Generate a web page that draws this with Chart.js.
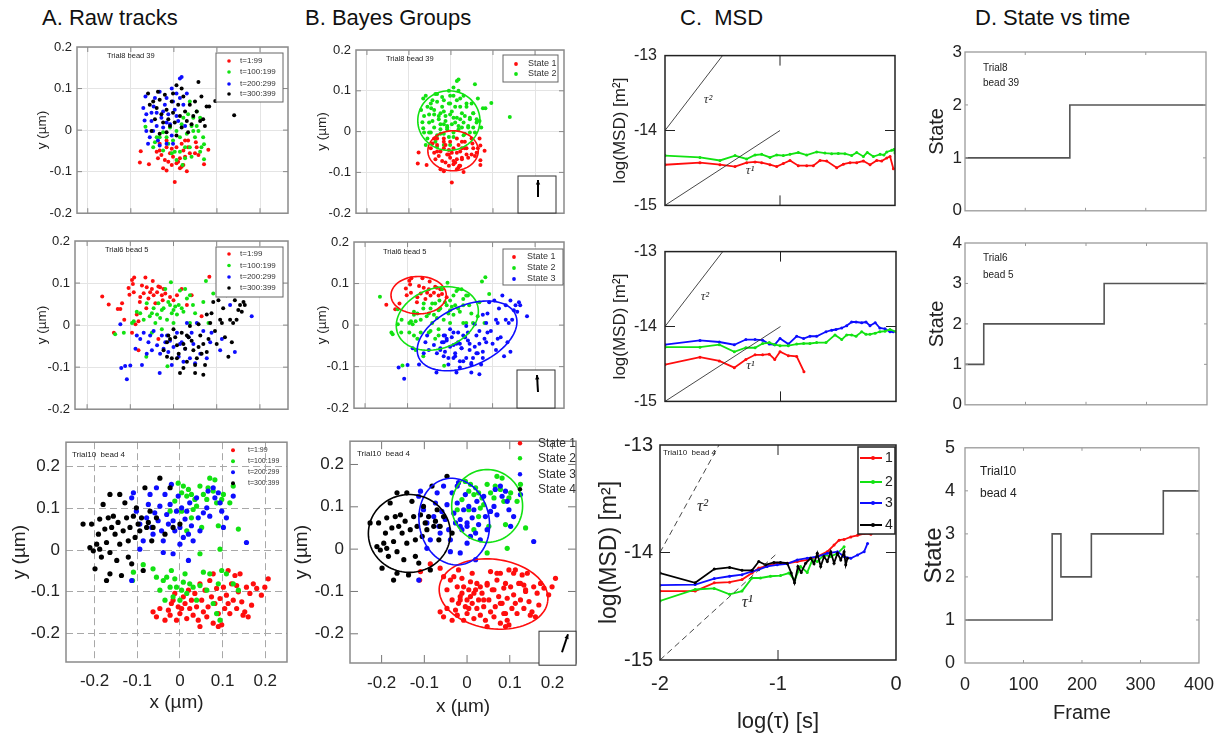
<!DOCTYPE html>
<html>
<head>
<meta charset="utf-8">
<script src="https://cdn.jsdelivr.net/npm/chart.js@4/dist/chart.umd.min.js"></script>
<style>
  body { margin: 0; background: #fff; width: 1225px; height: 737px; position: relative; overflow: hidden; font-family: 'Liberation Sans', Arial, sans-serif; }
  canvas { position: absolute; }
  .ttl { position: absolute; top: 5px; font-size: 22px; line-height: 26px; color: #111; white-space: pre; }
</style>
</head>
<body>
<div class="ttl" style="left:42px">A. Raw tracks</div>
<div class="ttl" style="left:305px">B. Bayes Groups</div>
<div class="ttl" style="left:680px">C.  MSD</div>
<div class="ttl" style="left:975px">D. State vs time</div>
<script>
// ---- Tick values ----
const xyTicks = [-0.2, -0.1, 0, 0.1, 0.2];
const msdXTicks = [-2, -1, 0];
const msdYTicks = [-15, -14, -13];
const frameTicks = [0, 100, 200, 300, 400];
const stateTicks3 = [0, 1, 2, 3];
const stateTicks4 = [0, 1, 2, 3, 4];
const stateTicks5 = [0, 1, 2, 3, 4, 5];

// ---- Legend labels ----
const timeLabels = ['t=1:99', 't=100:199', 't=200:299', 't=300:399'];
const stateLabels = ['State 1', 'State 2', 'State 3', 'State 4'];
const msdLabels = ['1', '2', '3', '4'];

// ---- Trial8 bead 39 : positions (µm), grouped by frame block ----
const r1Red = [[-0.077,-0.051],[-0.079,-0.078],[-0.058,-0.082],[-0.033,-0.049],[-0.029,-0.060],[-0.025,-0.092],[-0.017,-0.097],[-0.021,-0.072],[-0.009,-0.056],[-0.005,-0.045],[-0.002,-0.064],[0.002,-0.125],[0.006,-0.080],[0.010,-0.076],[0.014,-0.068],[0.018,-0.033],[0.022,-0.049],[0.026,-0.025],[0.030,-0.099],[0.033,-0.041],[0.037,-0.056],[0.049,-0.056],[0.053,-0.041],[0.070,-0.082],[0.080,-0.047],[-0.017,-0.041],[-0.037,-0.068],[-0.013,-0.076],[0.014,-0.092],[0.026,-0.064],[-0.033,-0.033],[0.033,-0.025],[0.006,-0.041],[-0.005,-0.084],[0.018,-0.088],[-0.040,-0.052],[0.051,-0.029],[0.057,-0.060],[-0.017,-0.025],[0.022,-0.084]];
const r1GreenEarly = [[-0.048,-0.041],[-0.040,-0.017],[-0.017,-0.017],[-0.005,-0.056],[-0.002,-0.025],[0.006,-0.072],[0.014,-0.017],[0.026,-0.041],[0.049,-0.017],[0.064,-0.041],[0.068,-0.017],[0.070,-0.034],[0.070,-0.070],[0.061,-0.052],[0.037,-0.041],[0.020,-0.084],[-0.025,-0.049],[-0.044,-0.029],[0.026,-0.068],[0.002,-0.052],[-0.033,-0.017],[0.014,-0.052],[0.041,-0.064],[-0.013,-0.033]];
const r1GreenLate = [[-0.066,0.008],[-0.025,-0.005],[0.018,0.014],[0.022,0.030],[0.030,-0.009],[0.033,0.038],[0.037,0.069],[0.041,0.010],[0.045,0.030],[0.053,0.045],[0.057,-0.002],[0.061,0.030],[0.006,-0.002],[-0.009,0.006],[0.045,-0.002],[0.053,0.010]];
const r1Blue = [[-0.066,0.081],[-0.071,0.053],[-0.068,0.023],[-0.064,-0.002],[-0.056,-0.017],[-0.052,0.022],[-0.047,0.057],[-0.040,0.042],[-0.033,0.092],[-0.029,0.030],[-0.025,0.006],[-0.021,0.061],[-0.017,0.077],[-0.013,0.038],[-0.009,0.014],[-0.005,0.100],[-0.002,0.069],[0.002,0.049],[0.006,0.088],[0.010,0.022],[0.014,0.124],[0.018,0.128],[0.022,0.061],[0.026,0.010],[0.030,0.088],[-0.002,-0.033],[-0.017,-0.033],[-0.037,-0.025],[-0.060,-0.033],[-0.040,0.010],[-0.064,0.038],[-0.048,-0.002],[-0.025,0.045],[-0.005,-0.013],[-0.033,-0.037],[-0.044,0.077],[0.006,0.034],[-0.017,0.018],[-0.052,0.042],[0.014,0.077]];
const r1Black = [[-0.060,0.088],[-0.056,0.061],[-0.048,0.069],[-0.040,0.053],[-0.037,0.092],[-0.033,0.073],[-0.029,0.038],[-0.025,0.018],[-0.021,0.085],[-0.017,0.049],[-0.013,0.026],[-0.009,0.010],[-0.005,0.069],[-0.002,0.042],[0.002,0.018],[0.006,0.108],[0.010,0.061],[0.014,0.034],[0.018,0.006],[0.022,0.081],[0.026,0.045],[0.030,0.022],[0.033,-0.005],[0.037,0.061],[0.041,0.014],[0.045,0.034],[0.049,0.069],[0.053,0.045],[0.057,0.116],[0.061,0.022],[0.064,0.081],[0.068,0.026],[0.072,0.010],[0.076,0.057],[0.082,0.057],[0.096,0.070],[0.140,0.036],[-0.033,-0.009],[-0.017,-0.005],[0.006,-0.013],[-0.044,0.026],[-0.052,-0.002],[-0.002,0.088],[0.018,0.100]];

// ---- Trial6 bead 5 ----
const r2RedEarly = [[-0.150,0.049],[-0.129,0.038],[-0.119,0.052],[-0.104,0.088],[-0.102,0.072],[-0.096,0.107],[-0.094,0.098],[-0.092,0.078],[-0.091,0.113],[-0.078,0.055],[-0.077,0.067],[-0.073,0.094],[-0.069,0.076],[-0.065,0.113],[-0.062,0.090],[-0.058,0.063],[-0.054,0.078],[-0.050,0.086],[-0.048,0.105],[-0.046,0.071],[-0.038,0.078],[-0.035,0.092],[-0.031,0.090],[-0.027,0.071],[-0.023,0.086],[-0.019,0.075],[-0.008,0.067]];
const r2RedLate = [[-0.165,0.068],[-0.138,-0.018],[-0.123,0.038],[-0.114,0.013],[-0.088,0.002],[-0.085,0.025],[-0.081,0.009],[-0.063,0.040],[-0.042,0.052],[-0.025,0.059],[0.000,0.059],[0.008,0.071],[0.019,0.086],[0.031,0.048],[0.042,0.071],[0.065,0.021],[0.083,0.115],[-0.081,-0.060],[-0.096,-0.018],[-0.035,-0.033]];
const r2Green = [[-0.135,-0.022],[-0.115,-0.018],[-0.096,0.005],[-0.085,0.032],[-0.077,0.028],[-0.069,0.013],[-0.063,-0.075],[-0.062,0.052],[-0.055,0.021],[-0.050,0.028],[-0.046,0.040],[-0.042,0.005],[-0.038,0.025],[-0.035,0.052],[-0.031,0.017],[-0.027,0.036],[-0.023,0.040],[-0.019,0.086],[-0.015,0.013],[-0.014,-0.098],[-0.012,0.055],[-0.008,0.048],[-0.006,0.102],[-0.004,0.028],[0.000,0.036],[0.004,0.044],[0.008,0.025],[0.012,0.048],[0.015,0.082],[0.019,0.040],[0.023,0.032],[0.027,0.086],[0.031,0.063],[0.038,0.071],[0.045,0.048],[0.050,0.028],[0.069,0.055],[0.075,0.105],[0.081,0.005],[0.092,0.075],[-0.092,0.009],[-0.027,-0.010],[-0.050,-0.018],[0.000,0.005],[0.038,0.005]];
const r2BlueEarly = [[-0.123,0.002],[-0.085,-0.025],[-0.069,-0.018],[-0.046,-0.014],[-0.027,-0.025],[0.031,0.005],[0.054,0.005],[-0.077,-0.033],[-0.112,-0.097]];
const r2BlueLate = [[-0.121,-0.102],[-0.108,-0.129],[-0.100,-0.096],[-0.088,-0.056],[-0.073,-0.095],[-0.062,-0.068],[-0.058,-0.041],[-0.054,-0.025],[-0.050,-0.060],[-0.038,-0.048],[-0.032,-0.114],[-0.031,-0.068],[-0.023,-0.056],[-0.019,-0.041],[-0.015,-0.025],[-0.012,-0.064],[-0.008,-0.037],[-0.004,-0.095],[0.000,-0.052],[0.008,-0.018],[0.012,-0.075],[0.015,-0.045],[0.019,-0.041],[0.023,-0.087],[0.027,-0.056],[0.035,-0.029],[0.038,-0.079],[0.042,-0.018],[0.046,-0.045],[0.050,-0.091],[0.062,-0.068],[0.069,-0.014],[0.077,-0.079],[0.085,-0.041],[0.108,-0.060],[0.131,0.048],[0.142,-0.064],[0.181,0.021],[0.112,-0.033],[0.088,-0.018]];
const r2Black = [[-0.023,-0.060],[-0.015,-0.041],[-0.012,-0.025],[-0.008,-0.033],[-0.004,-0.079],[0.000,-0.010],[0.004,-0.029],[0.008,-0.048],[0.012,-0.068],[0.015,-0.114],[0.019,-0.018],[0.023,-0.045],[0.027,-0.056],[0.031,-0.087],[0.035,-0.029],[0.038,-0.002],[0.042,-0.037],[0.046,-0.060],[0.050,-0.095],[0.054,-0.079],[0.058,-0.052],[0.062,-0.025],[0.065,-0.068],[0.069,-0.045],[0.073,-0.095],[0.077,-0.064],[0.081,-0.033],[0.085,0.005],[0.088,0.028],[0.092,0.055],[0.096,-0.014],[0.100,-0.045],[0.104,0.059],[0.108,0.013],[0.112,0.005],[0.115,0.040],[0.119,-0.029],[0.123,0.071],[0.127,-0.075],[0.131,0.013],[0.135,-0.041],[0.138,0.005],[0.142,0.059],[0.146,0.013],[0.150,0.036],[0.154,0.048],[0.158,0.032],[0.162,0.055],[0.165,0.048],[0.069,-0.118],[0.050,-0.114],[0.023,-0.102],[-0.015,-0.075],[0.031,-0.025],[0.008,-0.079],[0.058,0.002],[0.077,0.025]];

// ---- Trial10 bead 4 ----
const r3Red = [[-0.047,-0.140],[-0.035,-0.168],[-0.027,-0.144],[-0.023,-0.156],[-0.016,-0.120],[-0.012,-0.104],[-0.008,-0.168],[-0.004,-0.136],[0.000,-0.152],[0.004,-0.140],[0.008,-0.112],[0.012,-0.128],[0.016,-0.164],[0.020,-0.096],[0.023,-0.140],[0.027,-0.120],[0.031,-0.156],[0.035,-0.104],[0.039,-0.136],[0.043,-0.168],[0.047,-0.081],[0.051,-0.120],[0.055,-0.148],[0.059,-0.096],[0.063,-0.160],[0.066,-0.136],[0.070,-0.073],[0.074,-0.112],[0.078,-0.175],[0.082,-0.128],[0.086,-0.092],[0.090,-0.152],[0.094,-0.116],[0.098,-0.179],[0.102,-0.089],[0.105,-0.140],[0.109,-0.108],[0.113,-0.049],[0.117,-0.152],[0.121,-0.081],[0.125,-0.120],[0.129,-0.061],[0.133,-0.140],[0.137,-0.100],[0.141,-0.057],[0.145,-0.124],[0.148,-0.156],[0.152,-0.148],[0.156,-0.089],[0.160,-0.160],[0.164,-0.104],[0.168,-0.132],[0.172,-0.081],[0.180,-0.092],[0.191,-0.108],[0.199,-0.089],[0.207,-0.069],[-0.063,-0.148],[-0.055,-0.160],[-0.020,-0.128],[0.078,-0.057],[0.047,-0.183],[0.090,-0.183],[0.113,-0.128],[0.133,-0.085]];
const r3GreenLow = [[-0.109,-0.053],[-0.111,-0.073],[-0.086,-0.035],[-0.063,-0.045],[-0.055,-0.065],[-0.047,-0.096],[-0.039,-0.073],[-0.035,-0.120],[-0.031,-0.065],[-0.023,-0.089],[-0.020,-0.049],[-0.016,-0.112],[-0.012,-0.069],[-0.008,-0.089],[0.000,-0.120],[0.004,-0.096],[0.008,-0.077],[0.012,-0.057],[0.016,-0.104],[0.023,-0.081],[0.031,-0.089],[0.039,-0.120],[0.047,-0.085],[0.055,-0.053],[0.063,-0.096],[0.070,-0.057],[0.078,-0.128],[0.086,-0.152],[0.090,-0.081],[0.094,-0.168],[0.098,-0.049],[0.109,-0.057],[0.125,-0.081],[0.137,-0.096]];
const r3GreenHigh = [[-0.023,0.093],[-0.012,0.117],[-0.004,0.160],[0.004,0.137],[0.008,0.153],[0.016,0.129],[0.020,0.145],[0.027,0.133],[0.031,0.097],[0.035,0.121],[0.039,0.105],[0.047,0.153],[0.051,0.054],[0.055,0.133],[0.063,0.121],[0.066,0.149],[0.070,0.172],[0.078,0.141],[0.082,0.168],[0.086,0.113],[0.090,0.058],[0.094,0.002],[0.098,0.121],[0.102,0.133],[0.117,0.113],[0.125,0.153],[0.137,0.050],[0.016,0.046],[0.047,-0.009],[0.027,0.077],[0.004,0.093]];
const r3Blue = [[-0.113,0.125],[-0.109,0.137],[-0.102,0.093],[-0.094,0.062],[-0.086,0.022],[-0.078,0.077],[-0.074,0.109],[-0.070,0.133],[-0.066,0.054],[-0.063,0.038],[-0.059,0.089],[-0.055,0.149],[-0.051,0.070],[-0.047,0.105],[-0.043,0.046],[-0.039,0.022],[-0.035,0.133],[-0.031,0.085],[-0.027,0.062],[-0.023,0.109],[-0.020,0.157],[-0.016,0.070],[-0.012,0.046],[-0.008,0.093],[-0.004,0.129],[0.000,0.054],[0.004,0.101],[0.008,0.030],[0.012,0.074],[0.016,0.093],[0.020,0.038],[0.023,0.113],[0.027,0.058],[0.031,0.022],[0.039,0.125],[0.043,0.077],[0.047,0.046],[0.055,0.089],[0.063,0.101],[0.066,0.141],[0.070,0.081],[0.078,0.149],[0.082,0.125],[0.090,0.137],[0.094,0.113],[0.098,0.093],[0.102,0.054],[0.109,0.077],[0.125,0.129],[0.156,0.018],[0.020,-0.025],[-0.016,-0.009],[-0.039,-0.006],[0.000,0.014],[-0.113,-0.073],[-0.094,0.002]];
const r3BlackEarly = [[-0.023,0.149],[-0.016,0.054],[0.000,0.062]];
const r3BlackLate = [[-0.227,0.062],[-0.207,0.062],[-0.203,-0.002],[-0.199,-0.045],[-0.195,0.014],[-0.191,0.038],[-0.188,0.074],[-0.184,-0.017],[-0.180,0.109],[-0.176,0.050],[-0.172,0.018],[-0.168,0.077],[-0.164,-0.006],[-0.160,0.054],[-0.156,0.081],[-0.152,0.038],[-0.148,-0.025],[-0.145,0.066],[-0.141,0.014],[-0.137,-0.061],[-0.133,0.046],[-0.129,0.113],[-0.125,0.077],[-0.121,0.022],[-0.117,0.054],[-0.113,-0.033],[-0.109,0.081],[-0.105,0.030],[-0.102,0.101],[-0.098,0.062],[-0.094,0.046],[-0.090,0.077],[-0.086,-0.049],[-0.082,0.149],[-0.078,0.054],[-0.074,0.066],[-0.070,0.093],[-0.066,0.022],[-0.063,0.054],[-0.055,0.077],[-0.047,0.172],[-0.035,0.038],[-0.164,0.133],[-0.188,0.002],[-0.211,0.006],[-0.141,0.133],[-0.121,-0.017],[-0.164,-0.057],[-0.172,-0.073]];

// ---- Fitted state ellipses: [cx, cy, rx, ry, angle(deg)] ----
const r1Ellipses = [[0.005,-0.047,0.060,0.049,0],[-0.005,0.027,0.074,0.073,0]];
const r2Ellipses = [[-0.074,0.072,0.065,0.045,0],[-0.030,0.016,0.100,0.072,22],[0.040,-0.026,0.125,0.072,25]];
const r3Ellipses = [[0.062,-0.106,0.128,0.082,-8],[0.047,0.102,0.083,0.086,0],[-0.030,0.065,0.082,0.103,10],[-0.135,0.037,0.096,0.092,0]];

// ---- MSD curves: [log(tau), log(MSD)] ----
const tauSq = [[-2,-14],[-1.5,-13]];
const tauOne = [[-2,-15],[-1,-14]];
const c1Red = [[-2,-14.457],[-1.696,-14.429],[-1.522,-14.457],[-1.391,-14.482],[-1.29,-14.429],[-1.217,-14.42],[-1.159,-14.429],[-1.087,-14.457],[-1.029,-14.482],[-0.971,-14.441],[-0.913,-14.40],[-0.841,-14.47],[-0.768,-14.47],[-0.71,-14.47],[-0.652,-14.40],[-0.594,-14.408],[-0.507,-14.498],[-0.449,-14.449],[-0.391,-14.429],[-0.333,-14.429],[-0.275,-14.408],[-0.217,-14.457],[-0.159,-14.40],[-0.116,-14.408],[-0.072,-14.367],[-0.043,-14.347],[-0.014,-14.51]];
const c1Green = [[-2,-14.335],[-1.696,-14.359],[-1.522,-14.40],[-1.391,-14.335],[-1.29,-14.38],[-1.217,-14.327],[-1.159,-14.318],[-1.087,-14.36],[-1.029,-14.327],[-0.971,-14.335],[-0.913,-14.318],[-0.841,-14.294],[-0.768,-14.327],[-0.681,-14.286],[-0.609,-14.302],[-0.551,-14.31],[-0.493,-14.306],[-0.435,-14.31],[-0.377,-14.335],[-0.333,-14.294],[-0.275,-14.347],[-0.241,-14.294],[-0.188,-14.347],[-0.13,-14.318],[-0.096,-14.327],[-0.072,-14.286],[-0.029,-14.265],[-0.01,-14.253],[0,-14.3]];
const c2Red = [[-2,-14.509],[-1.697,-14.41],[-1.53,-14.46],[-1.40,-14.55],[-1.30,-14.44],[-1.22,-14.378],[-1.155,-14.378],[-1.097,-14.37],[-1.05,-14.44],[-1.004,-14.337],[-0.932,-14.39],[-0.86,-14.40],[-0.797,-14.603]];
const c2Green = [[-2,-14.276],[-1.697,-14.276],[-1.53,-14.243],[-1.40,-14.337],[-1.30,-14.284],[-1.22,-14.284],[-1.155,-14.227],[-1.097,-14.215],[-1.05,-14.243],[-1.004,-14.256],[-0.932,-14.256],[-0.86,-14.235],[-0.80,-14.227],[-0.745,-14.227],[-0.687,-14.215],[-0.606,-14.215],[-0.528,-14.112],[-0.47,-14.174],[-0.427,-14.112],[-0.384,-14.112],[-0.346,-14.13],[-0.297,-14.07],[-0.26,-14.104],[-0.225,-14.104],[-0.18,-14.09],[-0.14,-14.07],[-0.095,-14.063],[-0.052,-14.04],[0,-14.07]];
const c2Blue = [[-2,-14.243],[-1.697,-14.186],[-1.53,-14.207],[-1.40,-14.243],[-1.30,-14.174],[-1.22,-14.174],[-1.155,-14.182],[-1.097,-14.235],[-1.05,-14.243],[-1.004,-14.16],[-0.932,-14.235],[-0.86,-14.13],[-0.80,-14.16],[-0.745,-14.13],[-0.687,-14.13],[-0.606,-14.07],[-0.557,-14.05],[-0.52,-14.04],[-0.47,-14.02],[-0.427,-13.99],[-0.384,-13.94],[-0.346,-13.94],[-0.297,-13.95],[-0.26,-13.94],[-0.225,-13.99],[-0.18,-13.95],[-0.14,-14.02],[-0.095,-14.03],[-0.052,-14.07],[-0.023,-14.07]];
const c3Red = [[-2,-14.359],[-1.702,-14.359],[-1.54,-14.282],[-1.41,-14.276],[-1.305,-14.252],[-1.22,-14.191],[-1.163,-14.145],[-1.092,-14.124],[-1.007,-14.1],[-0.922,-14.1],[-0.837,-14.084],[-0.752,-14.069],[-0.667,-14.038],[-0.582,-13.992],[-0.525,-13.931],[-0.482,-13.885],[-0.44,-13.879],[-0.383,-13.855],[-0.326,-13.84],[-0.27,-13.824],[-0.213,-13.83]];
const c3Green = [[-2,-14.45],[-1.702,-14.344],[-1.54,-14.334],[-1.41,-14.389],[-1.305,-14.359],[-1.22,-14.237],[-1.149,-14.237],[-1.064,-14.221],[-0.979,-14.215],[-0.908,-14.191],[-0.86,-14.258],[-0.809,-14.13],[-0.752,-14.185],[-0.709,-14.069],[-0.667,-14.084],[-0.61,-14.023],[-0.553,-14.038],[-0.496,-14.008],[-0.44,-13.947]];
const c3Blue = [[-2,-14.304],[-1.702,-14.298],[-1.54,-14.243],[-1.41,-14.221],[-1.305,-14.206],[-1.22,-14.176],[-1.163,-14.16],[-1.092,-14.13],[-1.007,-14.115],[-0.922,-14.105],[-0.837,-14.069],[-0.752,-14.053],[-0.667,-14.038],[-0.582,-14.008],[-0.496,-13.992],[-0.44,-14.038],[-0.383,-14.053],[-0.326,-14.023],[-0.27,-13.992],[-0.241,-13.916]];
const c3Black = [[-2,-14.191],[-1.702,-14.282],[-1.54,-14.154],[-1.41,-14.139],[-1.305,-14.166],[-1.22,-14.166],[-1.163,-14.084],[-1.106,-14.115],[-1.035,-14.093],[-0.979,-14.093],[-0.922,-14.099],[-0.888,-14.19],[-0.86,-14.282],[-0.831,-14.13],[-0.803,-14.185],[-0.766,-14.1],[-0.723,-14.053],[-0.695,-14.105],[-0.667,-14.008],[-0.638,-14.13],[-0.61,-14.038],[-0.582,-14.084],[-0.553,-13.992],[-0.525,-14.099],[-0.496,-14.008],[-0.468,-14.069],[-0.44,-13.992],[-0.426,-14.115],[-0.411,-14.053]];

// ---- State vs frame (change points) ----
const d1Frames = [0, 174, 400];
const d1States = [1, 2, 2];
const d2Frames = [0, 31, 230, 400];
const d2States = [1, 2, 3, 3];
const d3Frames = [0, 149, 164, 216, 339, 400];
const d3States = [1, 3, 2, 3, 4, 4];

// --- Styling ---
const FONT = "'Liberation Sans', Arial, sans-serif";
const RED = '#ff0d0d', GREEN = '#12e212', BLUE = '#0d0dff', BLACK = '#000';
const groupColors = [RED, GREEN, BLUE, BLACK];
Chart.defaults.font.family = FONT;

const dots = (data, color, r, order) => ({
  data, backgroundColor: color, borderWidth: 0, pointRadius: r, order
});
const curve = (data, color, r) => ({
  data, showLine: true, borderColor: color, backgroundColor: color, borderWidth: 1.8, pointRadius: r, pointBorderWidth: 0
});
const refLine = (data, dash) => ({
  data, showLine: true, borderColor: '#333', borderWidth: 0.9, borderDash: dash || [], pointRadius: 0
});
const steps = (frames, states) => ({
  data: frames.map((f, i) => ({ x: f, y: states[i] })),
  showLine: true, stepped: 'before', borderColor: '#555', borderWidth: 1.6, pointRadius: 0
});

function axis(range, ticks, size, fixed, grid, horiz, pad) {
  return {
    type: 'linear', min: range[0], max: range[1],
    afterBuildTicks: s => { s.ticks = ticks.map(v => ({ value: v })); },
    afterFit: s => { if (horiz) s.height = fixed; else s.width = fixed; },
    ticks: { display: !!size, font: { size: size || 10 }, color: '#222', padding: pad, callback: v => String(v) },
    grid: grid ? { color: grid.color, lineWidth: 1, drawTicks: false } : { display: false, drawTicks: false },
    border: { display: false, dash: (grid && grid.dash) || [] }
  };
}

function line(ctx, x1, y1, x2, y2) {
  ctx.beginPath(); ctx.moveTo(x1, y1); ctx.lineTo(x2, y2); ctx.stroke();
}

function decoPlugin(o) {
  return {
    id: 'deco',
    afterDatasetsDraw(chart) {
      const { ctx, chartArea: a, scales: { x, y } } = chart;
      ctx.save();
      // state ellipses
      (o.ellipses || []).forEach((e, i) => {
        const c = Math.cos(e[4] * Math.PI / 180), s = Math.sin(e[4] * Math.PI / 180);
        ctx.beginPath();
        for (let k = 0; k <= 90; k++) {
          const t = k / 90 * 2 * Math.PI;
          const ex = e[0] + e[2] * Math.cos(t) * c - e[3] * Math.sin(t) * s;
          const ey = e[1] + e[2] * Math.cos(t) * s + e[3] * Math.sin(t) * c;
          const X = x.getPixelForValue(ex), Y = y.getPixelForValue(ey);
          if (k) ctx.lineTo(X, Y); else ctx.moveTo(X, Y);
        }
        ctx.strokeStyle = groupColors[i]; ctx.lineWidth = 1.6; ctx.stroke();
      });
      // inner tick marks
      if (o.tick) {
        ctx.strokeStyle = o.tickColor; ctx.lineWidth = 1;
        x.ticks.forEach(t => {
          const px = x.getPixelForValue(t.value);
          if (px <= a.left + 1 || px >= a.right - 1) return;
          line(ctx, px, a.bottom, px, a.bottom - o.tick);
          line(ctx, px, a.top, px, a.top + o.tick);
        });
        y.ticks.forEach(t => {
          const py = y.getPixelForValue(t.value);
          if (py <= a.top + 1 || py >= a.bottom - 1) return;
          line(ctx, a.left, py, a.left + o.tick, py);
          line(ctx, a.right, py, a.right - o.tick, py);
        });
      }
      // frame
      ctx.strokeStyle = o.frame; ctx.lineWidth = o.frameW;
      ctx.strokeRect(a.left, a.top, a.right - a.left, a.bottom - a.top);
      // inset with drift arrow
      if (o.inset) {
        const b = o.inset.box;
        ctx.fillStyle = '#fff'; ctx.fillRect(a.left + b[0], a.top + b[1], b[2], b[3]);
        ctx.strokeStyle = '#333'; ctx.lineWidth = 1; ctx.strokeRect(a.left + b[0], a.top + b[1], b[2], b[3]);
        const [fx, fy] = o.inset.from, [tx, ty] = o.inset.to;
        const X1 = a.left + fx, Y1 = a.top + fy, X2 = a.left + tx, Y2 = a.top + ty;
        ctx.strokeStyle = '#000'; ctx.lineWidth = 2; line(ctx, X1, Y1, X2, Y2);
        const ang = Math.atan2(Y2 - Y1, X2 - X1);
        ctx.fillStyle = '#000'; ctx.beginPath();
        ctx.moveTo(X2, Y2);
        ctx.lineTo(X2 - 5 * Math.cos(ang - 0.45), Y2 - 5 * Math.sin(ang - 0.45));
        ctx.lineTo(X2 - 5 * Math.cos(ang + 0.45), Y2 - 5 * Math.sin(ang + 0.45));
        ctx.closePath(); ctx.fill();
      }
      // legend
      const L = o.legend;
      if (L) {
        ctx.font = L.size + 'px ' + FONT;
        if (L.box) {
          ctx.fillStyle = '#fff'; ctx.fillRect(a.left + L.box[0], a.top + L.box[1], L.box[2], L.box[3]);
          ctx.strokeStyle = L.boxColor || '#666'; ctx.lineWidth = L.boxW || 1;
          ctx.strokeRect(a.left + L.box[0], a.top + L.box[1], L.box[2], L.box[3]);
        }
        L.labels.forEach((lab, i) => {
          const yy = a.top + L.rows[i];
          if (L.line) {
            ctx.strokeStyle = groupColors[i]; ctx.lineWidth = 2;
            line(ctx, a.left + L.line[0], yy, a.left + L.line[1], yy);
          }
          ctx.fillStyle = groupColors[i];
          ctx.beginPath(); ctx.arc(a.left + L.mx, yy, L.r, 0, 2 * Math.PI); ctx.fill();
          ctx.fillStyle = L.color || '#333'; ctx.textAlign = 'left'; ctx.textBaseline = 'middle';
          ctx.fillText(lab, a.left + L.tx, yy);
        });
      }
      // free texts (relative to plot area)
      (o.texts || []).forEach(t => {
        ctx.font = (t.style || '') + ' ' + t.size + 'px ' + (t.family || FONT);
        ctx.fillStyle = t.color || '#222'; ctx.textAlign = 'left'; ctx.textBaseline = 'middle';
        ctx.fillText(t.text, a.left + t.dx, a.top + t.dy);
      });
      // texts anchored to data values
      (o.dataTexts || []).forEach(t => {
        ctx.font = 'italic ' + t.size + "px 'Liberation Serif', serif";
        ctx.fillStyle = '#333'; ctx.textAlign = 'center'; ctx.textBaseline = 'middle';
        ctx.fillText(t.text, x.getPixelForValue(t.x), y.getPixelForValue(t.y));
      });
      // axis titles
      if (o.yTitle) {
        ctx.save();
        ctx.translate(a.left + o.yTitle.dx, (a.top + a.bottom) / 2);
        ctx.rotate(-Math.PI / 2);
        ctx.font = o.yTitle.size + 'px ' + FONT; ctx.fillStyle = '#222';
        ctx.textAlign = 'center'; ctx.textBaseline = 'middle';
        ctx.fillText(o.yTitle.text, 0, 0);
        ctx.restore();
      }
      if (o.xTitle) {
        ctx.font = o.xTitle.size + 'px ' + FONT; ctx.fillStyle = '#222';
        ctx.textAlign = 'center'; ctx.textBaseline = 'middle';
        ctx.fillText(o.xTitle.text, (a.left + a.right) / 2, a.bottom + o.xTitle.dy);
      }
      ctx.restore();
    }
  };
}

function panel(o) {
  const padL = 80, padT = 14, padR = 18, padB = o.padB || 8;
  const W = o.r - o.l, H = o.b - o.t;
  const cv = document.createElement('canvas');
  cv.width = W + padL + padR; cv.height = H + padT + padB;
  cv.style.left = (o.l - padL) + 'px'; cv.style.top = (o.t - padT) + 'px';
  document.body.appendChild(cv);
  new Chart(cv, {
    type: 'scatter',
    data: { datasets: o.datasets },
    options: {
      responsive: false, animation: false, events: [],
      layout: { padding: { left: 0, top: padT, right: padR, bottom: 0 } },
      plugins: { legend: { display: false }, tooltip: { enabled: false } },
      scales: {
        x: axis(o.xr, o.xTicks, o.xSize, padB, o.grid, true, o.xPad || 8),
        y: axis(o.yr, o.yTicks, o.ySize, padL, o.grid, false, o.yPad || 5)
      }
    },
    plugins: [decoPlugin(o)]
  });
}

const lightGrid = { color: '#e4e4e4' };
const dashGrid = { color: '#a8a8a8', dash: [7, 4] };
const boxAB = { frame: '#8a8a8a', frameW: 1.5 };
const DOT = 2.0, BIGDOT = 2.6;

// --- Column A: raw tracks ---
panel({ ...boxAB, l: 77, t: 47, r: 288, b: 218, xr: [-0.225, 0.265], yr: [-0.2, 0.2],
  xTicks: xyTicks, yTicks: xyTicks, ySize: 13, grid: lightGrid, tick: 5, tickColor: '#888',
  datasets: [dots(r1Red, RED, DOT, 0), dots(r1GreenEarly.concat(r1GreenLate), GREEN, DOT, -1), dots(r1Blue, BLUE, DOT, -2), dots(r1Black, BLACK, DOT, -3)],
  legend: { box: [139, 6, 67, 49], labels: timeLabels, rows: [14, 25, 37, 47], mx: 152, tx: 163, size: 8, r: 1.8 },
  texts: [{ text: 'Trial8 bead 39', dx: 30, dy: 9, size: 7.5 }],
  yTitle: { text: 'y (µm)', dx: -35, size: 13.5 } });

panel({ ...boxAB, l: 75, t: 241, r: 288, b: 414, xr: [-0.228, 0.265], yr: [-0.2, 0.2],
  xTicks: xyTicks, yTicks: xyTicks, ySize: 13, grid: lightGrid, tick: 5, tickColor: '#888',
  datasets: [dots(r2RedEarly.concat(r2RedLate), RED, DOT, 0), dots(r2Green, GREEN, DOT, -1), dots(r2BlueEarly.concat(r2BlueLate), BLUE, DOT, -2), dots(r2Black, BLACK, DOT, -3)],
  legend: { box: [141, 6, 67, 50], labels: timeLabels, rows: [13, 24.5, 36, 47], mx: 154, tx: 165, size: 8, r: 1.8 },
  texts: [{ text: 'Trial6 bead 5', dx: 30, dy: 9, size: 7.5 }],
  yTitle: { text: 'y (µm)', dx: -33, size: 13.5 } });

panel({ ...boxAB, l: 66, t: 440, r: 287, b: 662, padB: 80, xr: [-0.267, 0.251], yr: [-0.268, 0.258],
  xTicks: xyTicks, yTicks: xyTicks, xSize: 17, ySize: 17, xPad: 9, yPad: 6, grid: dashGrid,
  datasets: [dots(r3Red, RED, BIGDOT, 0), dots(r3GreenLow.concat(r3GreenHigh), GREEN, BIGDOT, -1), dots(r3Blue, BLUE, BIGDOT, -2), dots(r3BlackEarly.concat(r3BlackLate), BLACK, BIGDOT, -3)],
  legend: { labels: timeLabels, rows: [8, 19, 30, 41], mx: 167, tx: 182, size: 7, r: 2 },
  texts: [{ text: 'Trial10  bead 4', dx: 6, dy: 13, size: 8 }],
  yTitle: { text: 'y (µm)', dx: -46, size: 19 },
  xTitle: { text: 'x (µm)', dy: 41, size: 19 } });

// --- Column B: Bayes groups ---
panel({ ...boxAB, l: 356, t: 50, r: 564, b: 218, xr: [-0.226, 0.269], yr: [-0.2, 0.2],
  xTicks: xyTicks, yTicks: xyTicks, ySize: 13, grid: lightGrid, tick: 5, tickColor: '#888',
  datasets: [dots(r1Red.concat(r1GreenEarly), RED, DOT, -1), dots(r1GreenLate.concat(r1Blue, r1Black), GREEN, DOT, 0)],
  ellipses: r1Ellipses,
  inset: { box: [162, 126, 38, 37], from: [182, 147], to: [182, 130] },
  legend: { box: [147, 5, 55, 27], labels: stateLabels.slice(0, 2), rows: [14, 24], mx: 160, tx: 172, size: 9, r: 1.9 },
  texts: [{ text: 'Trial8 bead 39', dx: 30, dy: 9, size: 7.5 }],
  yTitle: { text: 'y (µm)', dx: -34, size: 13.5 } });

panel({ ...boxAB, l: 354, t: 242, r: 564, b: 413, xr: [-0.226, 0.268], yr: [-0.2, 0.2],
  xTicks: xyTicks, yTicks: xyTicks, ySize: 13, grid: lightGrid, tick: 5, tickColor: '#888',
  datasets: [dots(r2RedEarly, RED, DOT, 0), dots(r2RedLate.concat(r2Green, r2BlueEarly), GREEN, DOT, -1), dots(r2BlueLate.concat(r2Black), BLUE, DOT, -2)],
  ellipses: r2Ellipses,
  inset: { box: [163, 128, 38, 38], from: [184, 150], to: [183, 133] },
  legend: { box: [149, 7, 60, 36], labels: stateLabels.slice(0, 3), rows: [15, 26, 37], mx: 160, tx: 173, size: 9, r: 1.9 },
  texts: [{ text: 'Trial6 bead 5', dx: 29, dy: 10, size: 7.5 }],
  yTitle: { text: 'y (µm)', dx: -32, size: 13.5 } });

panel({ ...boxAB, l: 350, t: 439, r: 576, b: 663, padB: 80, xr: [-0.274, 0.255], yr: [-0.269, 0.255],
  xTicks: xyTicks, yTicks: xyTicks, xSize: 17, ySize: 17, xPad: 10, yPad: 6, tick: 8, tickColor: '#777',
  datasets: [dots(r3Red.concat(r3GreenLow), RED, BIGDOT, 0), dots(r3GreenHigh, GREEN, BIGDOT, -1), dots(r3Blue.concat(r3BlackEarly), BLUE, BIGDOT, -2), dots(r3BlackLate, BLACK, BIGDOT, -3)],
  ellipses: r3Ellipses,
  inset: { box: [189, 190, 37, 34], from: [212, 211], to: [218, 193] },
  legend: { labels: stateLabels, rows: [2, 17, 33, 48], mx: 170, tx: 188, size: 12, r: 2.2 },
  texts: [{ text: 'Trial10  bead 4', dx: 7, dy: 13, size: 8 }],
  yTitle: { text: 'y (µm)', dx: -48, size: 19 },
  xTitle: { text: 'x (µm)', dy: 44, size: 19 } });

// --- Column C: MSD ---
const boxC = { frame: '#222', frameW: 1.5, tick: 10, tickColor: '#222' };
panel({ ...boxC, l: 665, t: 52, r: 895, b: 215, xr: [-2, 0], yr: [-15, -13],
  xTicks: msdXTicks, yTicks: msdYTicks, ySize: 16, yPad: 8,
  datasets: [refLine(tauSq), refLine(tauOne), curve(c1Red, RED, 1.5), curve(c1Green, GREEN, 1.5)],
  dataTexts: [{ text: 'τ²', x: -1.626, y: -13.59, size: 13 }, { text: 'τ¹', x: -1.26, y: -14.53, size: 13 }],
  yTitle: { text: 'log(MSD) [m²]', dx: -45, size: 17 } });

panel({ ...boxC, l: 665, t: 248, r: 896, b: 411, xr: [-2, 0], yr: [-15, -13],
  xTicks: msdXTicks, yTicks: msdYTicks, ySize: 16, yPad: 8,
  datasets: [refLine(tauSq), refLine(tauOne), curve(c2Red, RED, 1.5), curve(c2Green, GREEN, 1.5), curve(c2Blue, BLUE, 1.5)],
  dataTexts: [{ text: 'τ²', x: -1.654, y: -13.6, size: 13 }, { text: 'τ¹', x: -1.26, y: -14.52, size: 13 }],
  yTitle: { text: 'log(MSD) [m²]', dx: -45, size: 17 } });

panel({ ...boxC, l: 660, t: 440, r: 896, b: 660, padB: 80, xr: [-2, 0], yr: [-15, -13],
  xTicks: msdXTicks, yTicks: msdYTicks, xSize: 20, ySize: 20, xPad: 12, yPad: 7,
  datasets: [refLine(tauSq, [6, 4]), refLine(tauOne, [6, 4]), curve(c3Black, BLACK, 1.5), curve(c3Blue, BLUE, 1.5), curve(c3Green, GREEN, 1.5), curve(c3Red, RED, 1.5)],
  dataTexts: [{ text: 'τ²', x: -1.64, y: -13.57, size: 17 }, { text: 'τ¹', x: -1.26, y: -14.47, size: 17 }],
  legend: { box: [198, 2, 37, 87], boxColor: '#222', boxW: 1.5, labels: msdLabels, rows: [13, 37, 58, 80], line: [200, 222], mx: 213, tx: 225, size: 14, r: 2, color: '#222' },
  texts: [{ text: 'Trial10  bead 4', dx: 3, dy: 8, size: 8 }],
  yTitle: { text: 'log(MSD) [m²]', dx: -50, size: 23 },
  xTitle: { text: 'log(τ) [s]', dy: 62, size: 22 } });

// --- Column D: state vs time ---
const boxD = { frame: '#9a9a9a', frameW: 1.3, tick: 3, tickColor: '#999' };
panel({ ...boxD, l: 965, t: 52, r: 1206, b: 216, xr: [0, 400], yr: [0, 3],
  xTicks: frameTicks, yTicks: stateTicks3, ySize: 17, yPad: 3,
  datasets: [steps(d1Frames, d1States)],
  texts: [{ text: 'Trial8', dx: 18, dy: 16, size: 10 }, { text: 'bead 39', dx: 18, dy: 31, size: 10 }],
  yTitle: { text: 'State', dx: -28, size: 20 } });

panel({ ...boxD, l: 965, t: 243, r: 1207, b: 410, xr: [0, 400], yr: [0, 4],
  xTicks: frameTicks, yTicks: stateTicks4, ySize: 17, yPad: 3,
  datasets: [steps(d2Frames, d2States)],
  texts: [{ text: 'Trial6', dx: 18, dy: 15, size: 10 }, { text: 'bead 5', dx: 18, dy: 32, size: 10 }],
  yTitle: { text: 'State', dx: -28, size: 20 } });

panel({ ...boxD, l: 965, t: 441, r: 1207, b: 663, padB: 80, xr: [0, 400], yr: [0, 5],
  xTicks: frameTicks, yTicks: stateTicks5, xSize: 18, ySize: 18, xPad: 11, yPad: 10,
  datasets: [steps(d3Frames, d3States)],
  texts: [{ text: 'Trial10', dx: 15, dy: 24, size: 12 }, { text: 'bead 4', dx: 15, dy: 46, size: 12 }],
  yTitle: { text: 'State', dx: -31, size: 24 },
  xTitle: { text: 'Frame', dy: 50, size: 20 } });
</script>
</body>
</html>
